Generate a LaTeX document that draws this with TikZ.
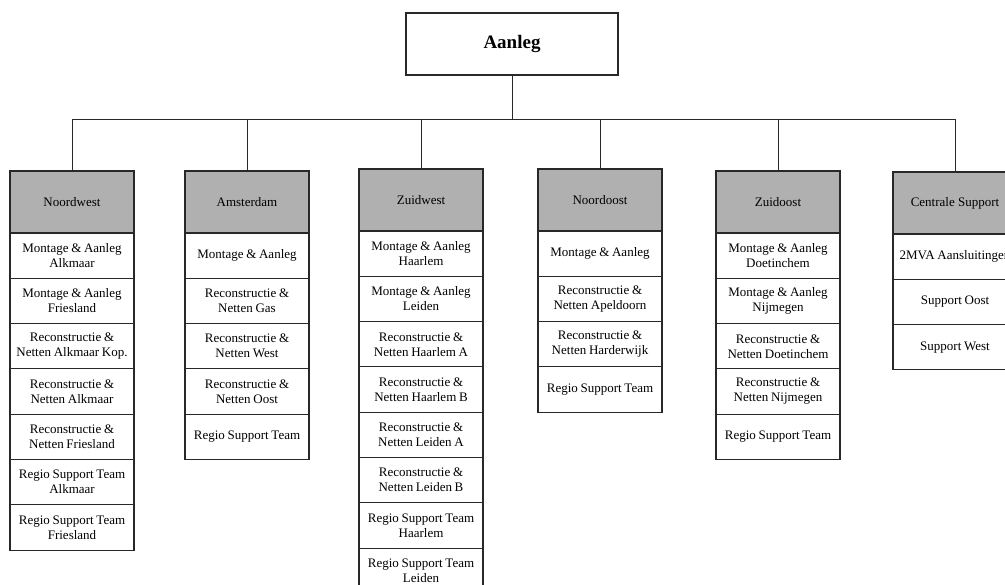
\documentclass[tikz,border=0pt]{standalone}
\usepackage{fontspec}
\setmainfont{Liberation Serif}
\definecolor{headgray}{RGB}{176,176,176}
\definecolor{rule}{RGB}{40,40,40}
% narrower interword space for the unit labels
\newcommand\tightwords{\spaceskip=2.7pt plus 1pt minus 0.5pt\relax}
% stack the unit boxes of one region below its header (#1 = name prefix)
\newcommand\stackunits[2]{%
  \foreach [count=\i] \t in {#2} {%
    \pgfmathtruncatemacro\prev{\i-1}%
    \node[unit, anchor=north] (#1\i) at (#1\prev.south) {\t};%
  }}
\begin{document}
\begin{tikzpicture}[x=1pt,y=-1pt,
  box/.style={draw=rule, line width=1.1pt, outer sep=0pt, inner sep=1pt,
    align=center, minimum width=124pt,
    font=\fontsize{13}{15}\selectfont},
  head/.style={box, fill=headgray, minimum height=62pt, anchor=north},
  unit/.style={box, fill=white, minimum height=45.3pt,
    execute at begin node=\tightwords},
  link/.style={draw=rule, line width=1pt}]
\useasboundingbox (0,0) rectangle (1005,585);
\clip (0,0) rectangle (1005,585);

% root
\node[box, minimum width=212pt, minimum height=62pt,
  font=\fontsize{19}{22}\selectfont\bfseries] (top) at (512,44) {Aanleg};
\coordinate (bus) at (512,120);

% region headers
\node[head] (nw0) at (72,171)  {Noordwest};
\node[head] (am0) at (247,171) {Amsterdam};
\node[head] (zw0) at (421,169) {Zuidwest};
\node[head] (no0) at (600,169) {Noordoost};
\node[head] (zo0) at (778,171) {Zuidoost};
\node[head] (cs0) at (955,172) {Centrale Support};

% units per region
\stackunits{nw}{{Montage \& Aanleg\\Alkmaar},{Montage \& Aanleg\\Friesland},
  {Reconstructie \&\\Netten Alkmaar Kop.},{Reconstructie \&\\Netten Alkmaar},
  {Reconstructie \&\\Netten Friesland},{Regio Support Team\\Alkmaar},
  {Regio Support Team\\Friesland}}
\stackunits{am}{{Montage \& Aanleg},{Reconstructie \&\\Netten Gas},
  {Reconstructie \&\\Netten West},{Reconstructie \&\\Netten Oost},
  {Regio Support Team}}
\stackunits{zw}{{Montage \& Aanleg\\Haarlem},{Montage \& Aanleg\\Leiden},
  {Reconstructie \&\\Netten Haarlem A},{Reconstructie \&\\Netten Haarlem B},
  {Reconstructie \&\\Netten Leiden A},{Reconstructie \&\\Netten Leiden B},
  {Regio Support Team\\Haarlem},{Regio Support Team\\Leiden}}
\stackunits{no}{{Montage \& Aanleg},{Reconstructie \&\\Netten Apeldoorn},
  {Reconstructie \&\\Netten Harderwijk},{Regio Support Team}}
\stackunits{zo}{{Montage \& Aanleg\\Doetinchem},{Montage \& Aanleg\\Nijmegen},
  {Reconstructie \&\\Netten Doetinchem},{Reconstructie \&\\Netten Nijmegen},
  {Regio Support Team}}
\stackunits{cs}{{2MVA Aansluitingen},{Support Oost},{Support West}}

% connectors
\draw[link] (top.south) -- (bus);
\foreach \c in {nw,am,zw,no,zo,cs}
  \draw[link] (\c0.north) |- (bus);
\end{tikzpicture}
\end{document}
